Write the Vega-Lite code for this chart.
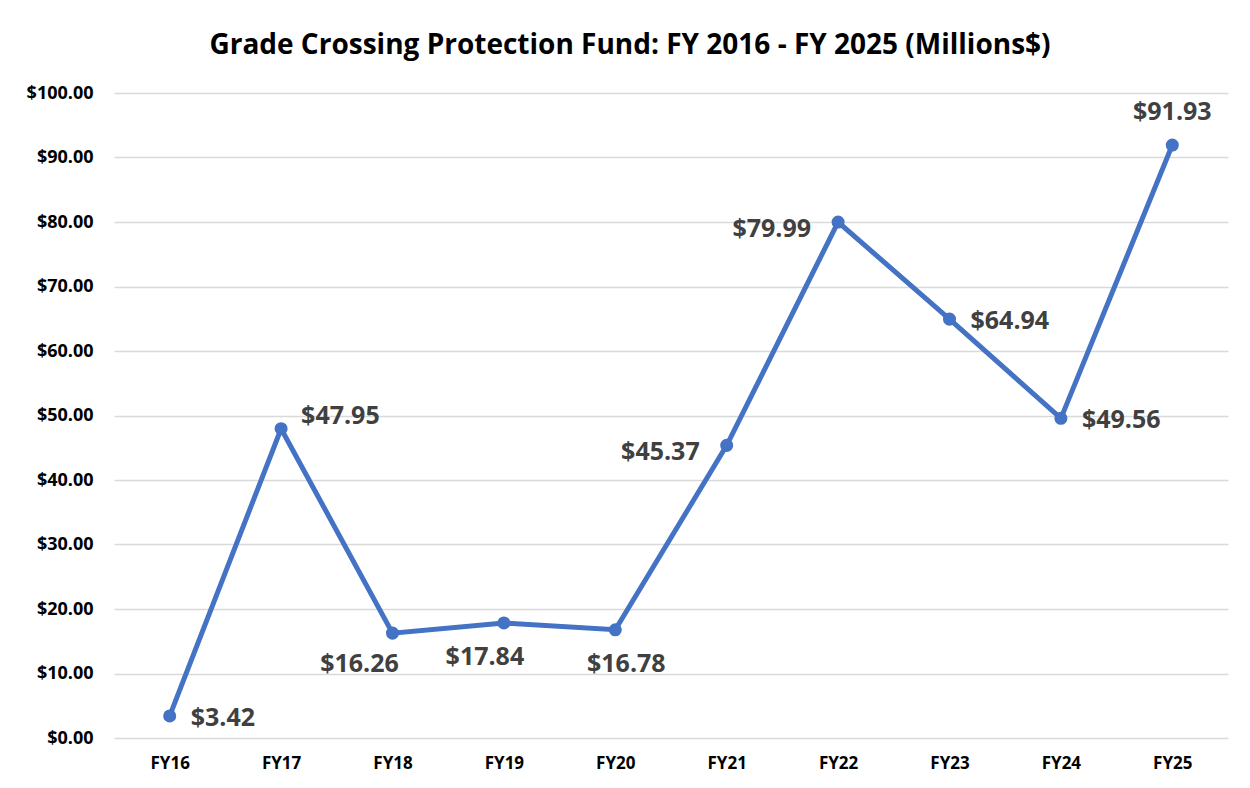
{
  "$schema": "https://vega.github.io/schema/vega-lite/v6.json",
  "width": 1114,
  "height": 645,
  "autosize": "none",
  "padding": {"left": 114, "top": 93, "right": 22, "bottom": 50},
  "background": "white",
  "title": {
    "text": "Grade Crossing Protection Fund: FY 2016 - FY 2025 (Millions$)",
    "font": "Open Sans",
    "fontSize": 28,
    "fontWeight": "bold",
    "color": "#000000",
    "anchor": "middle",
    "frame": "group",
    "dx": -41,
    "offset": 24
  },
  "config": {
    "view": {"stroke": null},
    "text": {"font": "Open Sans", "fontSize": 25, "fontWeight": "bold", "color": "#404040"}
  },
  "data": {
    "values": [
      {"year": "FY16", "value": 3.42},
      {"year": "FY17", "value": 47.95},
      {"year": "FY18", "value": 16.26},
      {"year": "FY19", "value": 17.84},
      {"year": "FY20", "value": 16.78},
      {"year": "FY21", "value": 45.37},
      {"year": "FY22", "value": 79.99},
      {"year": "FY23", "value": 64.94},
      {"year": "FY24", "value": 49.56},
      {"year": "FY25", "value": 91.93}
    ]
  },
  "encoding": {
    "x": {
      "field": "year",
      "type": "ordinal",
      "sort": null,
      "scale": {"type": "point", "padding": 0.5},
      "axis": {
        "title": null,
        "labelAngle": 0,
        "labelFont": "Open Sans",
        "labelFontSize": 17,
        "labelFontWeight": "bold",
        "labelColor": "#000000",
        "labelPadding": 17,
        "ticks": false,
        "domain": false,
        "grid": false
      }
    },
    "y": {
      "field": "value",
      "type": "quantitative",
      "scale": {"domain": [0, 100], "nice": false},
      "axis": {
        "title": null,
        "values": [0, 10, 20, 30, 40, 50, 60, 70, 80, 90, 100],
        "format": "$,.2f",
        "labelFont": "Open Sans",
        "labelFontSize": 18,
        "labelFontWeight": "bold",
        "labelColor": "#000000",
        "labelPadding": 21,
        "ticks": false,
        "domain": false,
        "grid": true,
        "gridColor": "#d9d9d9",
        "gridWidth": 1.5
      }
    }
  },
  "layer": [
    {"mark": {"type": "line", "color": "#4472C4", "strokeWidth": 5}},
    {"mark": {"type": "point", "filled": true, "color": "#4472C4", "size": 170, "opacity": 1}},
    {"transform": [{"filter": "datum.year == 'FY16' || datum.year == 'FY23' || datum.year == 'FY24'"}],
     "mark": {"type": "text", "align": "left", "baseline": "middle", "dx": 21, "dy": 2},
     "encoding": {"text": {"field": "value", "type": "quantitative", "format": "$,.2f"}}},
    {"transform": [{"filter": "datum.year == 'FY17'"}],
     "mark": {"type": "text", "align": "left", "baseline": "middle", "dx": 20, "dy": -13},
     "encoding": {"text": {"field": "value", "type": "quantitative", "format": "$,.2f"}}},
    {"transform": [{"filter": "datum.year == 'FY21' || datum.year == 'FY22'"}],
     "mark": {"type": "text", "align": "right", "baseline": "middle", "dx": -27, "dy": 7},
     "encoding": {"text": {"field": "value", "type": "quantitative", "format": "$,.2f"}}},
    {"transform": [{"filter": "datum.year == 'FY18'"}],
     "mark": {"type": "text", "align": "center", "baseline": "middle", "dx": -33, "dy": 31},
     "encoding": {"text": {"field": "value", "type": "quantitative", "format": "$,.2f"}}},
    {"transform": [{"filter": "datum.year == 'FY19'"}],
     "mark": {"type": "text", "align": "center", "baseline": "middle", "dx": -19, "dy": 34},
     "encoding": {"text": {"field": "value", "type": "quantitative", "format": "$,.2f"}}},
    {"transform": [{"filter": "datum.year == 'FY20'"}],
     "mark": {"type": "text", "align": "center", "baseline": "middle", "dx": 11, "dy": 34},
     "encoding": {"text": {"field": "value", "type": "quantitative", "format": "$,.2f"}}},
    {"transform": [{"filter": "datum.year == 'FY25'"}],
     "mark": {"type": "text", "align": "center", "baseline": "middle", "dx": 0, "dy": -33},
     "encoding": {"text": {"field": "value", "type": "quantitative", "format": "$,.2f"}}}
  ]
}
